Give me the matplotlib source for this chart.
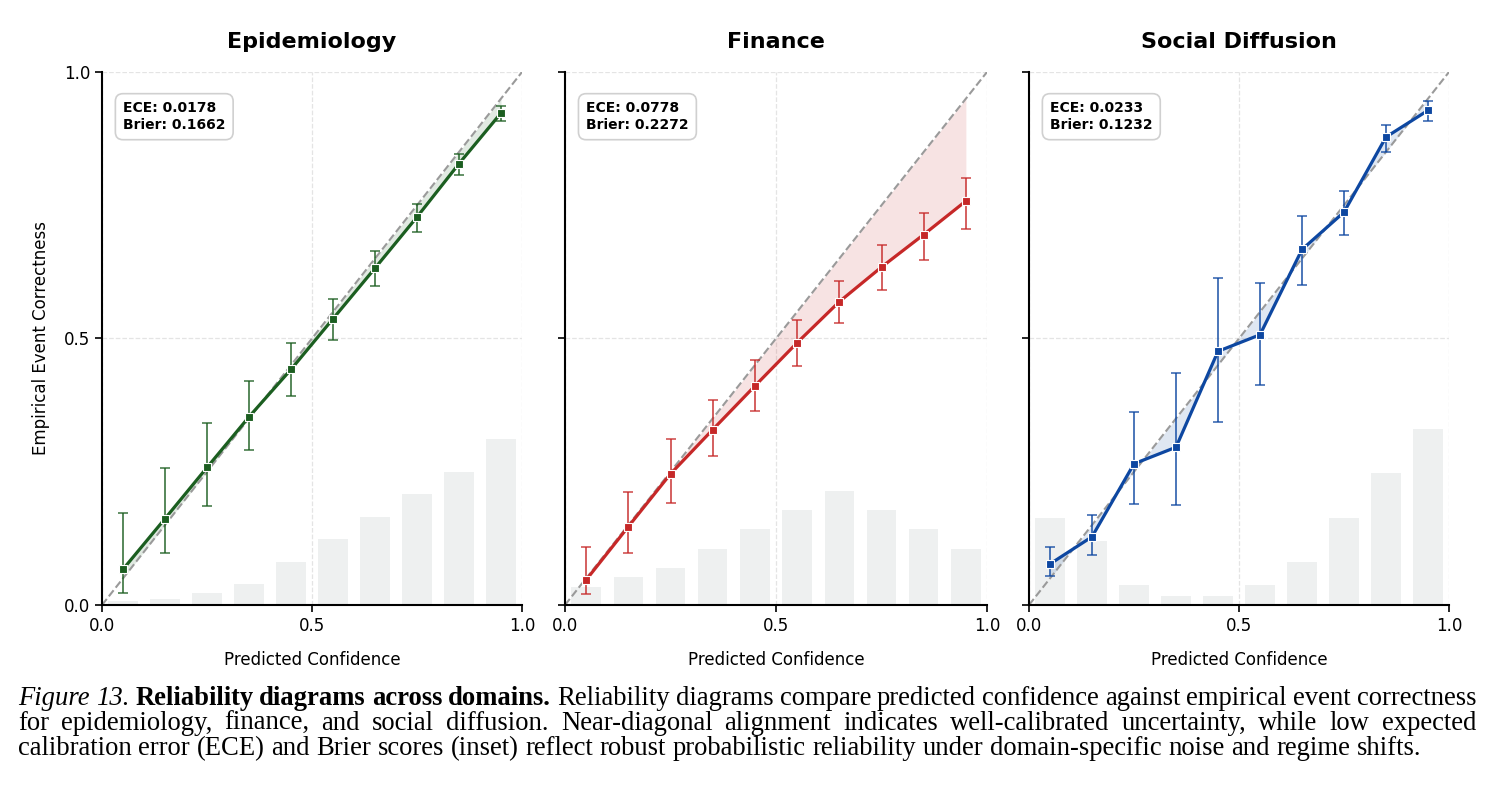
import numpy as np
import matplotlib
matplotlib.use("Agg")
import matplotlib.pyplot as plt

# ---------------- data ----------------
bins = [0.05, 0.15, 0.25, 0.35, 0.45, 0.55, 0.65, 0.75, 0.85, 0.95]
titles = ["Epidemiology", "Finance", "Social Diffusion"]
ece = ["0.0178", "0.0778", "0.0233"]
brier = ["0.1662", "0.2272", "0.1232"]

epi_acc = [0.067, 0.162, 0.258, 0.353, 0.442, 0.537, 0.632, 0.728, 0.828, 0.923]
epi_hi = [0.172, 0.257, 0.342, 0.421, 0.491, 0.575, 0.664, 0.753, 0.847, 0.936]
epi_lo = [0.023, 0.097, 0.185, 0.290, 0.393, 0.498, 0.598, 0.699, 0.806, 0.908]
epi_hist = [0.007, 0.012, 0.022, 0.039, 0.080, 0.123, 0.165, 0.208, 0.249, 0.312]

fin_acc = [0.047, 0.147, 0.246, 0.329, 0.411, 0.492, 0.569, 0.634, 0.695, 0.758]
fin_hi = [0.108, 0.212, 0.311, 0.385, 0.459, 0.534, 0.608, 0.676, 0.736, 0.801]
fin_lo = [0.020, 0.098, 0.192, 0.279, 0.364, 0.448, 0.529, 0.591, 0.647, 0.706]
fin_hist = [0.033, 0.052, 0.070, 0.106, 0.143, 0.178, 0.214, 0.178, 0.143, 0.106]

soc_acc = [0.077, 0.128, 0.265, 0.296, 0.476, 0.507, 0.667, 0.737, 0.878, 0.928]
soc_hi = [0.108, 0.168, 0.362, 0.436, 0.613, 0.604, 0.730, 0.777, 0.900, 0.946]
soc_lo = [0.054, 0.093, 0.190, 0.188, 0.344, 0.412, 0.601, 0.694, 0.850, 0.908]
soc_hist = [0.164, 0.121, 0.038, 0.016, 0.016, 0.038, 0.080, 0.164, 0.247, 0.331]

accs = [epi_acc, fin_acc, soc_acc]
his = [epi_hi, fin_hi, soc_hi]
los = [epi_lo, fin_lo, soc_lo]
hists = [epi_hist, fin_hist, soc_hist]
colors = ["#1b5e20", "#c62828", "#0d47a1"]

# ---------------- figure ----------------
W, H = 1491, 792
fig = plt.figure(figsize=(W / 100, H / 100), dpi=100)
plt.rcParams["font.family"] = ["DejaVu Sans"]

lefts = [102, 565, 1029]
widths = [420, 422, 420]
top_px, bot_px = 72, 605

for i in range(3):
    ax = fig.add_axes([lefts[i] / W, 1 - bot_px / H, widths[i] / W, (bot_px - top_px) / H])
    x = np.array(bins)
    y = np.array(accs[i])
    ax.bar(x, hists[i], width=0.07, color="#eef0f0", zorder=0)
    ax.plot([0, 1], [0, 1], ls="--", color="#9a9a9a", lw=1.5, zorder=2)
    ax.fill_between(x, x, y, color=colors[i], alpha=0.13, lw=0, interpolate=True, zorder=1)
    yerr = np.array([y - np.array(los[i]), np.array(his[i]) - y])
    ax.errorbar(x, y, yerr=yerr, fmt="none", ecolor=colors[i], elinewidth=1.3,
                capsize=3.5, capthick=1.2, alpha=0.8, zorder=3)
    ax.plot(x, y, color=colors[i], lw=2.3, marker="s", ms=6,
            markeredgecolor="white", markeredgewidth=0.8, zorder=4)
    ax.set_xlim(0, 1)
    ax.set_ylim(0, 1)
    ax.set_xticks([0, 0.5, 1.0])
    ax.set_yticks([0, 0.5, 1.0])
    ax.set_xticklabels(["0.0", "0.5", "1.0"], fontsize=12)
    if i == 0:
        ax.set_yticklabels(["0.0", "0.5", "1.0"], fontsize=12)
        ax.set_ylabel("Empirical Event Correctness", fontsize=12, labelpad=10)
    else:
        ax.set_yticklabels([])
    ax.set_xlabel("Predicted Confidence", fontsize=12, labelpad=12)
    ax.set_title(titles[i], fontsize=16, fontweight="bold", pad=17)
    ax.grid(True, ls="--", color="#e4e4e4", lw=0.9)
    ax.set_axisbelow(True)
    for s in ["top", "right"]:
        ax.spines[s].set_visible(False)
    for s in ["left", "bottom"]:
        ax.spines[s].set_linewidth(1.5)
    ax.tick_params(direction="out", length=5, width=1.2)
    ax.text(0.05, 0.945, f"ECE: {ece[i]}\nBrier: {brier[i]}", transform=ax.transAxes,
            fontsize=10, fontweight="bold", va="top", ha="left", linespacing=1.25,
            bbox=dict(boxstyle="round,pad=0.55", fc="white", ec="#d0d0d0", lw=1.2), zorder=6)

# ---------------- caption ----------------
cap_fs = 19.2
r = fig.canvas.get_renderer()

line1 = [("Figure", "italic"), ("13.", "italic"), ("Reliability", "bold"), ("diagrams", "bold"),
         ("across", "bold"), ("domains.", "bold")] + \
        [(w, "normal") for w in "Reliability diagrams compare predicted confidence against empirical event correctness".split()]
line2 = [(w, "normal") for w in "for epidemiology, finance, and social diffusion.  Near-diagonal alignment indicates well-calibrated uncertainty, while low expected".split()]
line3 = [(w, "normal") for w in "calibration error (ECE) and Brier scores (inset) reflect robust probabilistic reliability under domain-specific noise and regime shifts.".split()]


def place_line(tokens, ybase, left, right, justify):
    objs = []
    for word, st in tokens:
        kw = dict(fontsize=cap_fs, family="Liberation Serif", va="baseline", ha="left")
        if st == "italic":
            kw["style"] = "italic"
        elif st == "bold":
            kw["weight"] = "bold"
        objs.append(fig.text(0, ybase, word, **kw))
    ws = [t.get_window_extent(r).width for t in objs]
    if justify:
        gap = (right - left - sum(ws)) / (len(objs) - 1)
    else:
        gap = cap_fs * 100 / 72 * 0.25
    xx = left
    for t, w in zip(objs, ws):
        t.set_x(xx / W)
        xx += w + gap


place_line(line1, 1 - 705 / H, 18, 1476, True)
place_line(line2, 1 - 730 / H, 18, 1476, True)
place_line(line3, 1 - 755 / H, 18, 1476, False)

fig.savefig("out.png", dpi=100)
